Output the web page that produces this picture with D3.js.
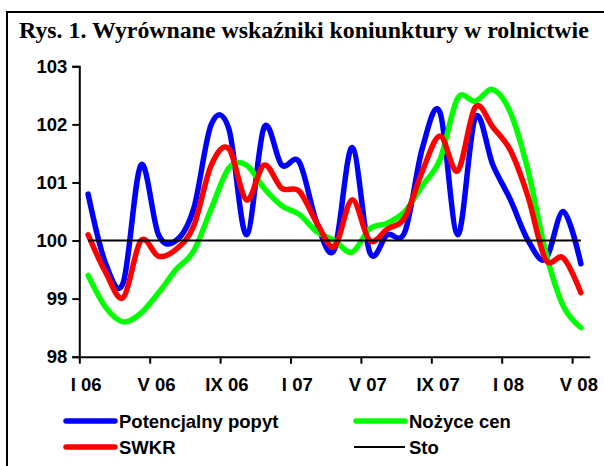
<!DOCTYPE html>
<html>
<head>
<meta charset="utf-8">
<script src="https://cdn.jsdelivr.net/npm/d3@7/dist/d3.min.js"></script>
<style>
  html, body { margin: 0; padding: 0; background: #fff; }
  svg { display: block; }
</style>
</head>
<body>
<script>
// ---- data ----
const months = [
  "I 06","II 06","III 06","IV 06","V 06","VI 06","VII 06","VIII 06","IX 06","X 06","XI 06","XII 06",
  "I 07","II 07","III 07","IV 07","V 07","VI 07","VII 07","VIII 07","IX 07","X 07","XI 07","XII 07",
  "I 08","II 08","III 08","IV 08","V 08"
];
const tickLabels = ["I 06","V 06","IX 06","I 07","V 07","IX 07","I 08","V 08"];
const yTicks = [98, 99, 100, 101, 102, 103];

const potencjalnyPopyt = [100.8, 99.6, 99.28, 101.3, 100.1, 100.0, 100.55, 102.0, 101.92, 100.1,
  101.95, 101.3, 101.35, 100.3, 99.85, 101.6, 99.8, 100.1, 100.15, 101.6,
  102.2, 100.1, 102.12, 101.3, 100.7, 100.0, 99.68, 100.5, 99.6];
const swkr = [100.1, 99.45, 99.02, 100.0, 99.73, 99.85, 100.25, 101.3, 101.58, 100.7,
  101.3, 100.9, 100.85, 100.3, 99.9, 100.7, 100.0, 100.2, 100.4, 101.2,
  101.8, 101.2, 102.3, 101.95, 101.55, 100.75, 99.67, 99.7, 99.1];
const nozyceCen = [99.4, 98.85, 98.6, 98.75, 99.1, 99.5, 99.82, 100.55, 101.25, 101.3,
  100.9, 100.6, 100.45, 100.15, 100.0, 99.8, 100.2, 100.3, 100.5, 100.95,
  101.4, 102.45, 102.4, 102.6, 102.2, 101.2, 99.8, 98.87, 98.5];
const sto = [100, 100, 100, 100, 100, 100, 100, 100, 100, 100,
  100, 100, 100, 100, 100, 100, 100, 100, 100, 100,
  100, 100, 100, 100, 100, 100, 100, 100, 100];

const seriesNames = ["Potencjalny popyt", "Nożyce cen", "SWKR", "Sto"];
const seriesColors = ["#0000ff", "#00ff00", "#ff0000", "#000000"];

// ---- build ----
const W = 604, H = 466;
const svg = d3.select("body").append("svg").attr("width", W).attr("height", H);

// frame
svg.append("rect").attr("x", 7).attr("y", 12).attr("width", 610).attr("height", 470)
  .attr("fill", "none").attr("stroke", "#000").attr("stroke-width", 2);

// title
const title = svg.append("text")
  .attr("x", 19).attr("y", 38)
  .attr("font-family", "'Liberation Serif', 'Times New Roman', serif")
  .attr("font-weight", "bold").attr("font-size", 22)
  .text("Rys. 1. Wyrównane wskaźniki koniunktury w rolnictwie");
const tw = title.node().getComputedTextLength();
title.attr("font-size", 22 * 570 / tw);

const plotLeft = 79.3, plotRight = 589.7, plotTop = 66.3, plotBottom = 356.7;

const x = d3.scaleBand().domain(months).range([plotLeft, plotRight]).padding(0);
const xc = d => x(d) + x.bandwidth() / 2;
const y = d3.scaleLinear().domain([98, 103]).range([plotBottom, plotTop]);

const font = "Arial, 'Liberation Sans', sans-serif";
const fs = 18.5;

// y axis
const yAxis = d3.axisLeft(y).tickValues(yTicks).tickSize(7).tickPadding(5).tickFormat(d3.format("d"));
const gy = svg.append("g").attr("transform", `translate(${plotLeft},0)`).call(yAxis);
gy.select(".domain").attr("stroke", "#000").attr("stroke-width", 2);
gy.selectAll(".tick line").attr("stroke", "#000").attr("stroke-width", 2);
gy.selectAll(".tick text").attr("font-family", font).attr("font-weight", "bold")
  .attr("font-size", fs).attr("fill", "#000");

// x axis: ticks at category boundaries every 4 months
const xb = d3.scaleLinear().domain([0, months.length]).range([plotLeft, plotRight]);
const boundaryTicks = tickLabels.map(l => months.indexOf(l));
const xAxis = d3.axisBottom(xb).tickValues(boundaryTicks).tickSize(7).tickFormat("").tickSizeOuter(0);
const gx = svg.append("g").attr("transform", `translate(0,${plotBottom})`).call(xAxis);
gx.select(".domain").attr("stroke", "#000").attr("stroke-width", 2);
gx.selectAll(".tick line").attr("stroke", "#000").attr("stroke-width", 2);

svg.append("g").selectAll("text").data(tickLabels).join("text")
  .attr("x", d => xc(d) - 2).attr("y", plotBottom + 34)
  .attr("text-anchor", "middle")
  .attr("font-family", font).attr("font-weight", "bold").attr("font-size", fs)
  .text(d => d);

// lines
const line = d3.line().x((d, i) => xc(months[i])).y(d => y(d)).curve(d3.curveCardinal.tension(0));
const allSeries = [potencjalnyPopyt, nozyceCen, swkr, sto];
const widths = [5.5, 5.5, 5.5, 2];
allSeries.forEach((s, k) => {
  svg.append("path").datum(s).attr("d", line)
    .attr("fill", "none").attr("stroke", seriesColors[k]).attr("stroke-width", widths[k])
    .attr("stroke-linecap", k === 3 ? "butt" : "round").attr("stroke-linejoin", "round");
});

// legend
const legendPos = [[64, 421], [354, 421], [64, 447], [354, 447]];
seriesNames.forEach((name, k) => {
  const [lx, ly] = legendPos[k];
  svg.append("line").attr("x1", lx + (k === 3 ? 0 : 2)).attr("x2", lx + 51).attr("y1", ly).attr("y2", ly)
    .attr("stroke", seriesColors[k]).attr("stroke-width", widths[k])
    .attr("stroke-linecap", k === 3 ? "butt" : "round");
  svg.append("text").attr("x", lx + 55).attr("y", ly + 6.5)
    .attr("font-family", font).attr("font-weight", "bold").attr("font-size", fs)
    .text(name);
});
</script>
</body>
</html>
